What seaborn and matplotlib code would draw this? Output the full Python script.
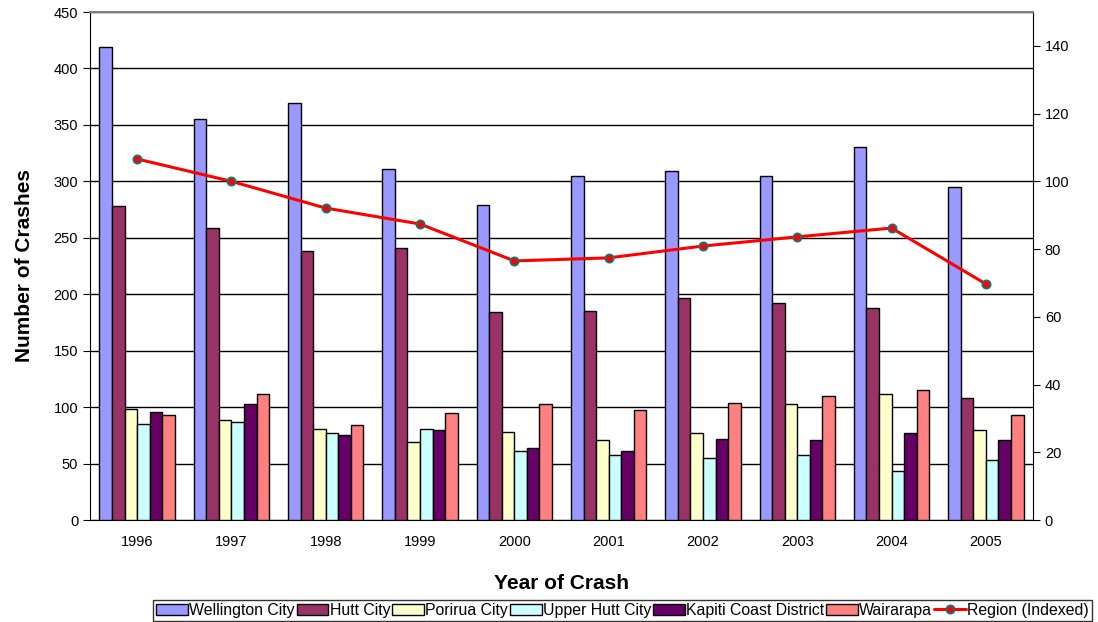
import pandas as pd
import numpy as np
import matplotlib
matplotlib.use('Agg')
import matplotlib.pyplot as plt
import seaborn as sns

# data
years = ['1996', '1997', '1998', '1999', '2000', '2001', '2002', '2003', '2004', '2005']
areas = ['Wellington City', 'Hutt City', 'Porirua City', 'Upper Hutt City',
         'Kapiti Coast District', 'Wairarapa']
wellington = [419, 355, 369, 311, 279, 305, 309, 305, 330, 295]
hutt = [278, 259, 238, 241, 184, 185, 197, 192, 188, 108]
porirua = [98, 89, 81, 69, 78, 71, 77, 103, 112, 80]
upper_hutt = [85, 87, 77, 81, 61, 58, 55, 58, 43, 53]
kapiti = [96, 103, 75, 80, 64, 61, 72, 71, 77, 71]
wairarapa = [93, 112, 84, 95, 103, 97, 104, 110, 115, 93]
region_indexed = [106.6, 100.0, 92.1, 87.4, 76.5, 77.4, 80.9, 83.6, 86.2, 69.7]

colors = ['#9999FF', '#993366', '#FFFFCC', '#CCFFFF', '#660066', '#FF8080']

rows = []
for area, vals in zip(areas, [wellington, hutt, porirua, upper_hutt, kapiti, wairarapa]):
    for y, v in zip(years, vals):
        rows.append({'Year': y, 'Area': area, 'Crashes': v})
df = pd.DataFrame(rows)
df_region = pd.DataFrame({'Year': years, 'Index': region_indexed})

sns.set_style('white')
plt.rcParams['font.family'] = ['Liberation Sans', 'DejaVu Sans']
plt.rcParams['text.color'] = 'black'
plt.rcParams['axes.labelcolor'] = 'black'
plt.rcParams['xtick.color'] = 'black'
plt.rcParams['ytick.color'] = 'black'

fig = plt.figure(figsize=(10.98, 6.22), dpi=100)
ax = fig.add_axes([90/1098, 1-520/622, (1033-90)/1098, (520-12)/622])

sns.barplot(data=df, x='Year', y='Crashes', hue='Area', hue_order=areas,
            palette=colors, width=0.8, gap=0, edgecolor='black', linewidth=1,
            saturation=1, ax=ax, legend=True, zorder=3)

ax.set_ylim(0, 450)
ax.set_yticks(range(0, 451, 50))
ax.set_xlim(-0.5, 9.5)
ax.yaxis.grid(True, color='black', linewidth=1)
ax.set_axisbelow(True)
ax.set_xticks(np.arange(-0.5, 10, 1), minor=True)
ax.tick_params(axis='x', which='major', length=0, labelsize=10.5, pad=11)
ax.tick_params(axis='x', which='minor', length=5, direction='out', color='black')
ax.tick_params(axis='y', length=5, direction='out', labelsize=10.5, left=True)
for s in ['left', 'bottom', 'right']:
    ax.spines[s].set_color('black')
ax.spines['top'].set_color('#808080')
ax.spines['top'].set_linewidth(1.5)
ax.set_xlabel('Year of Crash', fontsize=15, fontweight='bold', labelpad=18)
ax.set_ylabel('Number of Crashes', fontsize=15, fontweight='bold', labelpad=14)

ax2 = ax.twinx()
sns.pointplot(data=df_region, x='Year', y='Index', color='red', markers='o',
              linestyles='-', ax=ax2, label='Region (Indexed)',
              markeredgecolor='#008080', markeredgewidth=1.2, markersize=6,
              linewidth=2.2)
ax2.set_xlim(-0.5, 9.5)
ax2.set_ylim(0, 150)
ax2.set_yticks(range(0, 141, 20))
ax2.set_ylabel('')
ax2.tick_params(axis='y', length=5, direction='out', labelsize=10.5, right=True)
for s in ax2.spines.values():
    s.set_visible(False)

h1, l1 = ax.get_legend_handles_labels()
h2, l2 = ax2.get_legend_handles_labels()
ax.get_legend().remove()
if ax2.get_legend() is not None:
    ax2.get_legend().remove()
leg = fig.legend(h1 + h2, l1 + l2, loc='lower right', bbox_to_anchor=(1092/1098, 1/622),
                 ncol=7, frameon=True, fancybox=False, edgecolor='black',
                 fontsize=11.4, handlelength=2.0, handletextpad=0.1, columnspacing=0.1,
                 borderpad=0.2, borderaxespad=0)
leg.get_frame().set_linewidth(1)

fig.savefig('out.png', dpi=100, facecolor='white')
